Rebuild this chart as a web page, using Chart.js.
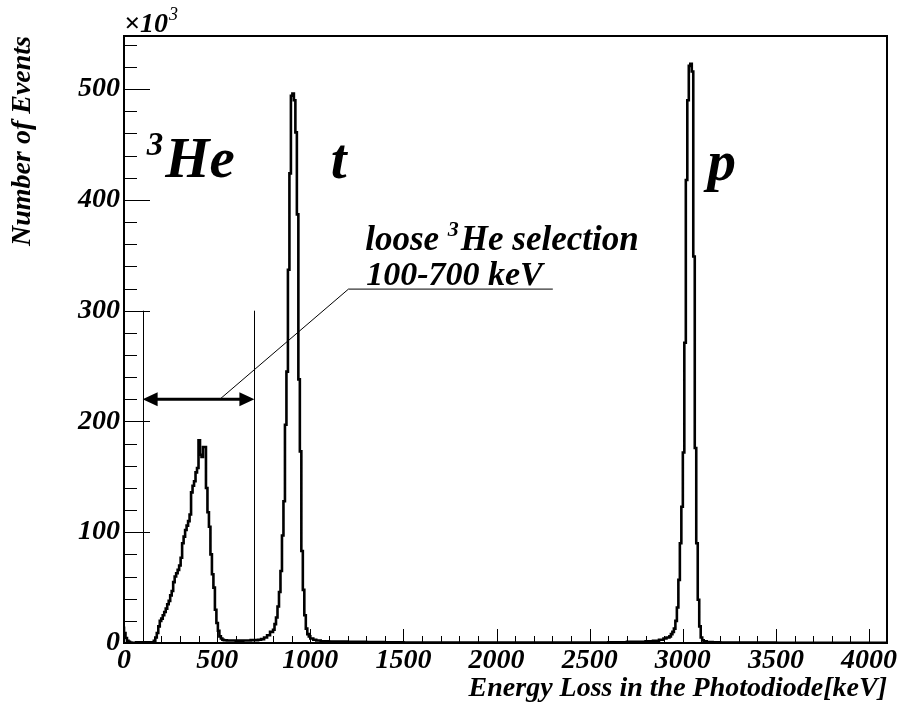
<!DOCTYPE html>
<html>
<head>
<meta charset="utf-8">
<script src="https://cdn.jsdelivr.net/npm/chart.js@4.4.0/dist/chart.umd.min.js"></script>
<style>
  html, body { margin: 0; padding: 0; background: #fff; }
  canvas { display: block; }
</style>
</head>
<body>
<canvas id="chart_spectrum" width="898" height="715"></canvas>
<script>
// bin left edges in keV, counts in units of 10^3
const binStart = [
  0, 8, 16, 24, 32, 40, 48, 64, 160, 168, 176, 184, 192, 200, 208, 216, 224, 232, 240, 248,
  256, 264, 272, 280, 288, 296, 304, 312, 320, 328, 336, 344, 352, 360, 368, 376, 384, 392,
  400, 408, 416, 424, 432, 440, 448, 456, 464, 472, 480, 488, 496, 504, 512, 520, 528, 536,
  552, 600, 640, 680, 720, 736, 752, 768, 784, 800, 808, 816, 824, 832, 840, 848, 856, 864,
  872, 880, 888, 896, 904, 912, 920, 928, 936, 944, 952, 960, 968, 976, 984, 992, 1000, 1016,
  1032, 1056, 1100, 1200, 1300, 1400, 1500, 1700, 2000, 2300, 2600, 2700, 2800, 2840, 2872,
  2896, 2912, 2928, 2936, 2944, 2952, 2960, 2968, 2976, 2984, 2992, 3000, 3008, 3016, 3024,
  3032, 3040, 3048, 3056, 3064, 3072, 3080, 3088, 3096, 3104, 3112, 3128, 3160, 3200, 3300,
  3500, 3700, 3900, 4096
];
const counts = [
  15, 9, 4.5, 2, 1, 0.5, 0.2, 0, 0.6, 2, 5, 9, 15, 20, 22, 25, 28, 31, 35, 38,
  43, 47, 55, 60, 63, 66, 70, 77, 90, 96, 102, 106, 110, 116, 136, 142, 146, 154,
  158, 183, 170, 168, 177, 177, 140, 118, 105, 80, 62, 50, 30, 18, 11, 6, 4, 3,
  2.5, 2.2, 2.1, 2.3, 2.6, 3, 3.5, 5, 7, 10, 12, 17, 23, 33, 46, 65, 97, 128,
  197, 245, 337, 424, 494, 496, 490, 461, 387, 238, 173, 83, 48, 25, 13, 8, 6, 4,
  3, 2.2, 1.6, 1.2, 1.0, 0.8, 0.7, 0.5, 0.4, 0.3, 0.4, 0.6, 1.0, 1.5, 2,
  3, 4, 5, 6, 8, 10, 13, 20, 32, 57, 90, 123, 172, 271, 418,
  490, 521, 523, 516, 349, 176, 90, 39, 15, 5, 2.5, 1.5, 0.8, 0.6, 0.4,
  0.3, 0.2, 0.1, 0.1
];
const xTicks = [0, 500, 1000, 1500, 2000, 2500, 3000, 3500, 4000];
const yTicks = [0, 100, 200, 300, 400, 500];

const xMax = 4096;
const yMax = 548;
const selLow = 100;
const selHigh = 700;
const selLineTop = 300;
const arrowLevel = 220;

const serif = "'Liberation Serif', 'Times New Roman', serif";
const font = (size) => "italic bold " + size + "px " + serif;

const points = binStart.map((x, i) => ({x: x, y: counts[i]}));

function drawSup(ctx, base, sup, x, y, size, supSize) {
  // raised sup followed by base, returns end x
  ctx.font = font(supSize);
  ctx.fillText(sup, x, y - size * 0.38);
  let w = ctx.measureText(sup).width;
  ctx.font = font(size);
  ctx.fillText(base, x + w + 2, y);
  return x + w + 2 + ctx.measureText(base).width;
}

const rootStyle = {
  id: 'rootStyle',
  afterDraw(chart) {
    const ctx = chart.ctx;
    const {left, right, top, bottom} = chart.chartArea;
    const xs = chart.scales.x;
    const ys = chart.scales.y;
    ctx.save();
    ctx.strokeStyle = '#000';
    ctx.fillStyle = '#000';

    // ticks pointing inward
    ctx.lineWidth = 1;
    ctx.beginPath();
    for (let v = 0; v <= xMax; v += 100) {
      const px = Math.round(xs.getPixelForValue(v)) + 0.5;
      const len = v % 500 === 0 ? 14 : 7;
      ctx.moveTo(px, bottom);
      ctx.lineTo(px, bottom - len);
    }
    for (let v = 0; v <= yMax; v += 20) {
      const py = Math.round(ys.getPixelForValue(v)) + 0.5;
      const len = v % 100 === 0 ? 26 : 13;
      ctx.moveTo(left, py);
      ctx.lineTo(left + len, py);
    }
    ctx.stroke();

    // frame
    ctx.lineWidth = 2;
    ctx.strokeRect(left, top, right - left, bottom - top);

    // selection lines
    ctx.lineWidth = 1;
    ctx.beginPath();
    [selLow, selHigh].forEach(v => {
      const px = Math.round(xs.getPixelForValue(v)) + 0.5;
      ctx.moveTo(px, ys.getPixelForValue(0));
      ctx.lineTo(px, ys.getPixelForValue(selLineTop));
    });
    ctx.stroke();

    // double arrow
    const ay = ys.getPixelForValue(arrowLevel);
    const ax0 = xs.getPixelForValue(selLow);
    const ax1 = xs.getPixelForValue(selHigh);
    const headL = 15, headH = 7;
    ctx.lineWidth = 3;
    ctx.beginPath();
    ctx.moveTo(ax0 + headL - 2, ay);
    ctx.lineTo(ax1 - headL + 2, ay);
    ctx.stroke();
    ctx.beginPath();
    ctx.moveTo(ax0, ay);
    ctx.lineTo(ax0 + headL, ay - headH);
    ctx.lineTo(ax0 + headL, ay + headH);
    ctx.closePath();
    ctx.moveTo(ax1, ay);
    ctx.lineTo(ax1 - headL, ay - headH);
    ctx.lineTo(ax1 - headL, ay + headH);
    ctx.closePath();
    ctx.fill();

    // leader line to the label
    ctx.lineWidth = 1;
    ctx.beginPath();
    ctx.moveTo(xs.getPixelForValue(514), ay);
    ctx.lineTo(xs.getPixelForValue(1205), ys.getPixelForValue(319.5));
    ctx.lineTo(xs.getPixelForValue(2302), ys.getPixelForValue(319.5));
    ctx.stroke();

    // texts
    ctx.textBaseline = 'alphabetic';
    ctx.textAlign = 'left';
    let x = xs.getPixelForValue(1295);
    let y = ys.getPixelForValue(355);
    ctx.font = font(35);
    ctx.fillText('loose ', x, y);
    x += ctx.measureText('loose ').width;
    drawSup(ctx, 'He selection', '3', x, y, 35, 22);
    ctx.font = font(34);
    ctx.fillText('100-700 keV', xs.getPixelForValue(1300), ys.getPixelForValue(323));

    drawSup(ctx, 'He', '3', xs.getPixelForValue(122), ys.getPixelForValue(421), 57, 33);
    ctx.font = font(57);
    ctx.textAlign = 'center';
    ctx.fillText('t', xs.getPixelForValue(1153), ys.getPixelForValue(420));
    ctx.fillText('p', xs.getPixelForValue(3209), ys.getPixelForValue(418));

    // axis multiplier
    ctx.textAlign = 'left';
    ctx.font = "italic bold 28px " + serif;
    ctx.fillText('\u00d710', left, top - 4);
    const w = ctx.measureText('\u00d710').width;
    ctx.font = "italic 18px " + serif;
    ctx.fillText('3', left + w + 1, top - 16);
    ctx.restore();
  }
};

const chart = new Chart(document.getElementById('chart_spectrum'), {
  type: 'line',
  data: {
    datasets: [{
      data: points,
      stepped: 'after',
      borderColor: '#000',
      borderWidth: 2.6,
      pointRadius: 0,
      fill: false
    }]
  },
  options: {
    responsive: false,
    animation: false,
    events: [],
    layout: { padding: { top: 36, right: 11, left: 0, bottom: 0 } },
    plugins: { legend: { display: false }, tooltip: { enabled: false } },
    scales: {
      x: {
        type: 'linear',
        min: 0,
        max: xMax,
        grid: { display: false },
        border: { display: false },
        afterBuildTicks: (s) => { s.ticks = xTicks.map(v => ({value: v})); },
        afterFit: (s) => { s.height = 72; s.paddingLeft = 0; s.paddingRight = 0; },
        ticks: {
          color: '#000',
          padding: -7,
          maxRotation: 0,
          autoSkip: false,
          callback: (v) => String(v),
          font: { family: serif, size: 28, style: 'italic', weight: 'bold' }
        },
        title: {
          display: true,
          text: 'Energy Loss in the Photodiode[keV]',
          align: 'end',
          color: '#000',
          padding: { top: 0, bottom: 9 },
          font: { family: serif, size: 28, style: 'italic', weight: 'bold' }
        }
      },
      y: {
        min: 0,
        max: yMax,
        grid: { display: false },
        border: { display: false },
        afterBuildTicks: (s) => { s.ticks = yTicks.map(v => ({value: v})); },
        afterFit: (s) => { s.width = 124; s.paddingTop = 0; s.paddingBottom = 0; },
        ticks: {
          color: '#000',
          padding: -4,
          autoSkip: false,
          callback: (v) => String(v),
          font: { family: serif, size: 28, style: 'italic', weight: 'bold' }
        },
        title: {
          display: true,
          text: 'Number of Events',
          align: 'end',
          color: '#000',
          padding: { top: 6, bottom: 0 },
          font: { family: serif, size: 28, style: 'italic', weight: 'bold' }
        }
      }
    }
  },
  plugins: [rootStyle]
});
</script>
</body>
</html>
